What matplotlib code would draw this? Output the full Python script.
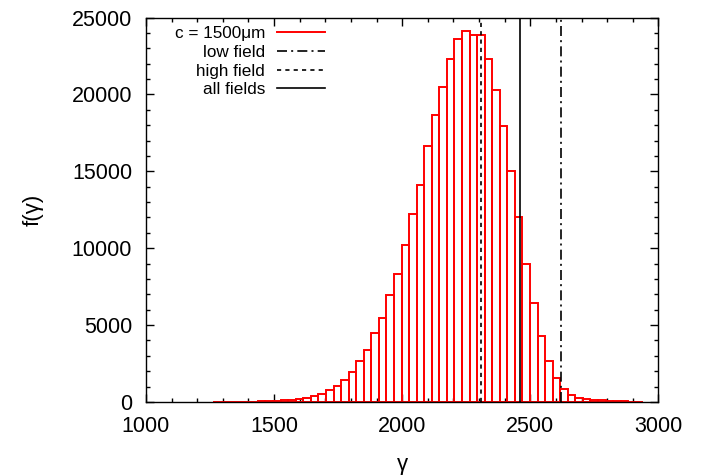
import matplotlib
matplotlib.use('Agg')
import matplotlib.pyplot as plt
from matplotlib.ticker import MultipleLocator
from matplotlib.lines import Line2D

plt.rcParams['font.family'] = ['Liberation Sans', 'DejaVu Sans']

# histogram: regular bins, first lower edge and width, then counts per bin
BIN_START = 1260.0
BIN_WIDTH = 29.5
COUNTS = [
    5, 8, 10, 15, 20, 28, 38, 50, 70,
    100, 150, 215, 260, 370, 500, 760, 1020, 1450, 1930, 2665, 3380, 4465,
    5480, 6940, 8340, 10230, 12200, 14090,
    16665, 18660, 20500, 22320, 23620, 24120, 23840, 23840, 22320, 20310,
    17970, 15000,
    12050, 8990, 6440, 4270, 2640, 1580, 825, 475, 280, 200, 150, 100, 80,
    60, 45, 30, 20,
]

# mean gamma for each field selection
GAMMA_LOW = 2620
GAMMA_HIGH = 2306
GAMMA_ALL = 2460

LABEL_HIST = 'c = 1500μm'
LABEL_LOW = 'low field'
LABEL_HIGH = 'high field'
LABEL_ALL = 'all fields'

fig = plt.figure(figsize=(7.11, 4.76), dpi=100)
ax = fig.add_axes([0.2053, 0.1555, 0.7207, 0.8075])

edges = [BIN_START + BIN_WIDTH * k for k in range(len(COUNTS))]
ax.bar(edges, COUNTS, width=BIN_WIDTH, align='edge', fill=False,
       edgecolor='#ff0000', linewidth=1.4, zorder=2)

ax.axvline(GAMMA_LOW, color='black', linewidth=1.2, dashes=(6, 2.5, 1.2, 2.5), zorder=3)
ax.axvline(GAMMA_HIGH, color='black', linewidth=1.2, dashes=(2.5, 2.5), zorder=3)
ax.axvline(GAMMA_ALL, color='black', linewidth=1.2, zorder=3)

ax.set_xlim(1000, 3000)
ax.set_ylim(0, 25000)
ax.xaxis.set_major_locator(MultipleLocator(500))
ax.xaxis.set_minor_locator(MultipleLocator(100))
ax.yaxis.set_major_locator(MultipleLocator(5000))
ax.yaxis.set_minor_locator(MultipleLocator(1000))
ax.tick_params(which='both', direction='in', top=True, right=True,
               labelsize=15.5, width=1.0)
ax.tick_params(axis='x', which='major', length=6, pad=10)
ax.tick_params(axis='y', which='major', length=6, pad=10)
ax.tick_params(which='minor', length=3)
for sp in ax.spines.values():
    sp.set_linewidth(1.0)
    sp.set_zorder(4)

ax.set_xlabel('γ', fontsize=16, labelpad=12)
ax.set_ylabel('f(γ)', fontsize=16, labelpad=20)

handles = [
    Line2D([], [], color='#ff0000', linewidth=1.4),
    Line2D([], [], color='black', linewidth=1.2, dashes=(6, 2.5, 1.2, 2.5)),
    Line2D([], [], color='black', linewidth=1.2, dashes=(2.5, 2.5)),
    Line2D([], [], color='black', linewidth=1.2),
]
fig.legend(handles, [LABEL_HIST, LABEL_LOW, LABEL_HIGH, LABEL_ALL],
           loc='upper right', bbox_to_anchor=(325 / 711, 1 - 26 / 476),
           bbox_transform=fig.transFigure, frameon=False, markerfirst=False,
           fontsize=12.3, handlelength=2.8, handletextpad=0.7,
           labelspacing=0.22, borderpad=0, borderaxespad=0)

fig.savefig('out.png', dpi=100)
